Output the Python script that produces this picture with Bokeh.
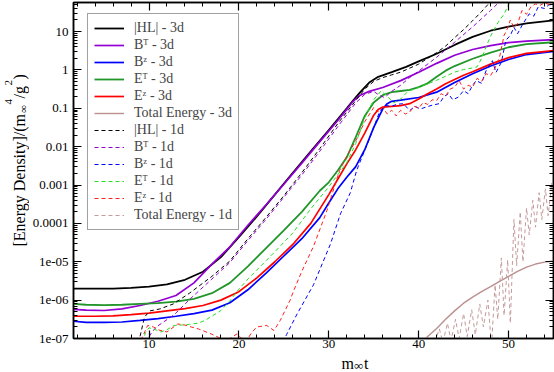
import numpy as np
from bokeh.plotting import figure
from bokeh.layouts import row, column
from bokeh.models import (Range1d, FixedTicker, LinearAxis, LogAxis, Legend,
                          LegendItem, Label, CustomJSTickFormatter)
from bokeh.embed import file_html
from bokeh.resources import INLINE

FONT = "Liberation Serif"

# ---------------- axes / ticks ----------------
x_major = [10, 20, 30, 40, 50]
x_minor = [2, 4, 6, 8, 12, 14, 16, 18, 22, 24, 26, 28, 32, 34, 36, 38, 42, 44, 46, 48, 52, 54]
y_major = [1e-07, 1e-06, 1e-05, 1e-04, 1e-03, 1e-02, 1e-01, 1.0, 10.0]
y_labels = ["1e-07", "1e-06", "1e-05", "0.0001", "0.001", "0.01", "0.1", "1", "10"]
y_minor = [m * 10.0 ** e for e in range(-7, 2) for m in range(2, 10)]

# ---------------- data (log10 of energy density) ----------------
hl3_x = [1.6, 4, 6, 8, 10, 12, 14, 16, 18, 20, 22, 24, 26, 28, 30, 32, 32.7, 33.5, 34.5, 35.5,
         37, 38.6, 40, 42, 44, 46, 48, 50, 52, 55]
hl3_l = [-5.70, -5.70, -5.70, -5.68, -5.65, -5.59, -5.47, -5.26, -4.88, -4.36, -3.82, -3.25, -2.68,
         -2.12, -1.57, -1.00, -0.80, -0.58, -0.33, -0.18, -0.06, 0.08, 0.22, 0.42, 0.65, 0.86, 1.02,
         1.13, 1.21, 1.29]

bt3_x = [1.6, 3, 5, 7, 9, 11, 13, 15, 17, 19, 21, 23, 25, 27, 29, 31, 32, 32.7, 33.5, 34.5, 36, 38,
         40, 42, 44, 46, 48, 50, 52, 55]
bt3_l = [-6.24, -6.26, -6.27, -6.23, -6.14, -6.03, -5.88, -5.55, -5.06, -4.61, -4.05, -3.52, -2.98,
         -2.43, -1.87, -1.32, -1.03, -0.82, -0.66, -0.56, -0.46, -0.28, -0.06, 0.17, 0.38, 0.53, 0.63,
         0.71, 0.75, 0.79]

bz3_x = [1.6, 3, 5, 7, 9, 11, 13, 15, 17, 19, 21, 23, 25, 27, 29, 30, 31, 32, 33, 34, 35, 36, 36.5,
         37, 38, 40, 42, 44, 46, 48, 50, 52, 55]
bz3_l = [-6.55, -6.58, -6.58, -6.57, -6.53, -6.48, -6.42, -6.35, -6.26, -6.07, -5.73, -5.30, -4.85,
         -4.40, -3.85, -3.47, -3.10, -2.80, -2.52, -2.08, -1.50, -1.02, -0.88, -0.82, -0.79, -0.72,
         -0.58, -0.33, -0.10, 0.10, 0.27, 0.40, 0.48]

et3_x = [1.6, 3, 5, 7, 9, 11, 13, 15, 17, 19, 21, 23, 25, 27, 29, 30, 31, 32, 33, 34, 35, 36, 37, 38,
         39, 40, 41, 42, 43, 44, 46, 48, 50, 52, 55]
et3_l = [-6.10, -6.12, -6.13, -6.12, -6.10, -6.08, -6.04, -5.97, -5.82, -5.55, -5.12, -4.65, -4.18,
         -3.70, -3.15, -2.93, -2.62, -2.28, -1.75, -1.20, -0.85, -0.66, -0.58, -0.55, -0.52, -0.45,
         -0.35, -0.18, -0.02, 0.10, 0.29, 0.45, 0.59, 0.67, 0.72]

ez3_x = [1.6, 4, 6, 8, 10, 12, 14, 16, 18, 20, 22, 24, 26, 28, 30, 31, 32, 33, 34, 35, 35.5, 36, 37,
         38, 39, 40, 41, 42, 43, 44, 45, 46, 48, 50, 52, 55]
ez3_l = [-6.42, -6.42, -6.41, -6.38, -6.34, -6.28, -6.22, -6.14, -6.00, -5.78, -5.42, -5.00, -4.55,
         -4.00, -3.25, -2.85, -2.45, -2.08, -1.65, -1.18, -1.03, -0.97, -0.95, -0.93, -0.88, -0.76,
         -0.62, -0.50, -0.36, -0.25, -0.14, -0.05, 0.15, 0.32, 0.43, 0.50]

tot3_x = [40.6, 41, 42, 43, 44, 45, 46, 47, 48, 49, 50, 51, 52, 53, 54, 55]
tot3_l = [-7.05, -6.95, -6.74, -6.50, -6.28, -6.08, -5.92, -5.78, -5.65, -5.51, -5.38, -5.25, -5.14,
          -5.06, -5.01, -4.98]

hl1_x = [8.7, 9.0, 9.5, 10.1, 11.2, 12.7, 14.5, 17.0, 19.0, 21.0, 23.0, 25.0, 27.0, 29.0, 31.0, 33.0,
         34.0, 35.0, 36.0, 37.0, 38.0, 40.0, 42.0, 43.0, 44.0, 45.0, 46.0, 47.0, 48.0, 48.6]
hl1_l = [-7.3, -6.95, -6.44, -6.28, -6.23, -6.10, -5.82, -5.38, -4.98, -4.40, -3.85, -3.28, -2.68,
         -2.05, -1.40, -0.80, -0.50, -0.30, -0.20, -0.13, -0.06, 0.15, 0.45, 0.62, 0.84, 1.05, 1.28,
         1.52, 1.78, 1.92]

bt1_x = [9.6, 10.2, 10.8, 12.8, 14.8, 17.0, 19.0, 21.0, 23.0, 25.0, 27.0, 29.0, 31.0, 33.0, 34.0,
         35.0, 35.6, 36.2, 37.0, 38.0, 39.0, 40.0, 42.0, 44.0, 46.0, 48.0, 49.2]
bt1_l = [-7.1, -6.88, -6.70, -6.38, -5.92, -5.45, -5.02, -4.45, -3.90, -3.32, -2.74, -2.12, -1.48,
         -0.86, -0.64, -0.56, -0.66, -0.72, -0.56, -0.40, -0.20, -0.03, 0.33, 0.72, 1.12, 1.55, 1.82]

bz1_x = [24.9, 25.3, 26.5, 28.3, 30.2, 31.3, 32.4, 33.1, 34.6, 35.7, 36.4, 37.0, 37.5, 38.3, 39.0,
         39.6, 40.2, 40.8, 41.5, 42.3, 42.8, 43.3, 43.8, 44.4, 45.0, 45.5, 46.0, 46.4, 47.0, 47.5,
         48.2, 48.6, 49.2, 49.7, 50.2, 50.6, 51.0, 51.6, 52.3, 52.8, 53.3, 54.0, 54.5, 55.0]
bz1_l = [-7.1, -6.90, -6.35, -5.60, -4.53, -3.75, -3.20, -2.62, -1.75, -1.06, -0.93, -0.95, -0.90,
         -0.88, -1.06, -0.95, -1.02, -0.97, -0.92, -0.88, -0.70, -0.62, -0.78, -0.71, -0.54, -0.62,
         -0.40, -0.28, -0.35, -0.02, 0.24, -0.07, 0.20, 0.77, 0.90, 1.11, 0.94, 1.20, 1.46, 1.40,
         1.64, 1.60, 1.70, 1.68]

et1_x = [9.3, 9.6, 10.0, 10.6, 11.3, 12.0, 12.8, 13.6, 14.5, 15.5, 16.2, 17.0, 18.0, 19.0, 19.8,
         21.0, 22.4, 24.0, 26.0, 28.0, 30.0, 32.0, 33.0, 34.0, 35.0, 35.8, 36.5, 37.2, 38.0, 38.8,
         40.0, 42.0, 44.0, 45.0, 46.0, 46.5, 47.0, 47.5, 48.0, 48.5, 49.0, 49.5, 50.0, 50.4]
et1_l = [-7.1, -6.85, -6.72, -6.76, -6.83, -6.77, -6.66, -6.65, -6.63, -6.60, -6.53, -6.42, -6.27,
         -6.02, -5.77, -5.45, -5.12, -4.74, -4.25, -3.62, -3.05, -2.42, -1.92, -1.25, -0.78, -0.55,
         -0.68, -0.86, -0.76, -0.56, -0.46, -0.27, -0.06, 0.01, 0.05, 0.08, 0.30, 0.60, 0.88, 1.10,
         1.30, 1.45, 1.70, 1.85]

ez1_x = [9.1, 9.85, 10.5, 11.1, 12.0, 13.2, 14.0, 14.7, 15.5, 16.9, 18.0, 18.6, 19.3, 19.8, 20.3,
         20.8, 21.4, 22.0, 23.1, 23.9, 24.6, 25.7, 26.1, 27.0, 28.3, 29.8, 31.2, 32.0, 33.0, 34.0,
         35.0, 35.5, 36.0, 36.5, 37.0, 37.5, 38.0, 38.5, 39.0, 39.5, 40.0, 40.5, 41.0, 41.5, 42.0,
         42.5, 43.0, 43.5, 44.0, 44.5, 45.0, 45.5, 46.0, 46.5, 47.0, 47.5, 48.0, 48.5, 49.0, 49.5,
         49.8, 50.2, 50.6, 51.0, 51.5, 52.0, 52.5, 53.0, 53.5, 54.0, 54.5, 55.0]
ez1_l = [-7.05, -6.66, -6.70, -6.78, -6.83, -6.62, -6.65, -6.70, -6.75, -6.88, -7.00, -7.08, -6.95,
         -6.88, -7.00, -7.08, -6.85, -6.70, -6.66, -6.79, -6.53, -6.00, -5.75, -5.25, -4.60, -3.66,
         -2.62, -2.25, -1.85, -1.35, -0.98, -1.10, -0.98, -1.15, -1.05, -1.20, -1.05, -1.15, -1.10,
         -0.95, -1.00, -0.85, -0.90, -0.78, -0.80, -0.62, -0.68, -0.50, -0.45, -0.28, -0.50, -0.40,
         -0.45, -0.22, -0.30, -0.10, -0.15, 0.05, 0.33, 0.90, 1.03, 1.30, 1.10, 1.20, 1.55, 1.45,
         1.65, 1.72, 1.68, 1.75, 1.70, 1.74]

tot1_x = [41.8, 42.3, 42.7, 43.2, 43.6, 44.1, 44.5, 45.0, 45.4, 45.9, 46.3, 46.8, 47.2, 47.7, 48.1,
          48.5, 48.8, 49.2, 49.5, 49.9, 50.2, 50.6, 50.9, 51.3, 51.6, 52.0, 52.3, 52.7, 53.0, 53.4,
          53.7, 54.1, 54.4, 54.8, 55.0]
tot1_l = [-7.1, -6.75, -7.1, -6.6, -7.05, -6.5, -7.0, -6.35, -6.95, -6.25, -6.9, -6.1, -6.7, -6.0,
          -7.2, -5.6, -6.5, -4.9, -6.4, -4.95, -6.6, -3.9, -5.1, -3.7, -5.0, -3.6, -4.3, -3.4, -4.1,
          -3.2, -3.9, -3.1, -3.8, -2.95, -3.5]

series = [
    # label, x, log10 y, color, width, dash
    ("|HL| - 3d", hl3_x, hl3_l, "#000000", 1.8, "solid"),
    ("B\u1d40 - 3d", bt3_x, bt3_l, "#9400d3", 1.7, "solid"),
    ("B\u1dbb - 3d", bz3_x, bz3_l, "#0000ff", 1.7, "solid"),
    ("E\u1d40 - 3d", et3_x, et3_l, "#22962a", 1.8, "solid"),
    ("E\u1dbb - 3d", ez3_x, ez3_l, "#ff0000", 1.7, "solid"),
    ("Total Energy - 3d", tot3_x, tot3_l, "#bc8f8f", 1.4, "solid"),
    ("|HL| - 1d", hl1_x, hl1_l, "#000000", 1.0, "4 3"),
    ("B\u1d40 - 1d", bt1_x, bt1_l, "#9400d3", 1.0, "4 3"),
    ("B\u1dbb - 1d", bz1_x, bz1_l, "#0000ff", 1.0, "4 3"),
    ("E\u1d40 - 1d", et1_x, et1_l, "#22e022", 1.0, "4 3"),
    ("E\u1dbb - 1d", ez1_x, ez1_l, "#ff2020", 1.0, "4 3"),
    ("Total Energy - 1d", tot1_x, tot1_l, "#c49a9a", 1.0, "4 3"),
]

LEFT_W = 29      # strip holding the y-axis title
BOTTOM_H = 18    # strip holding the x-axis title
TOTAL_W, TOTAL_H = 554, 372

p = figure(width=TOTAL_W - LEFT_W, height=TOTAL_H - BOTTOM_H, x_range=Range1d(1.6, 55),
           y_range=Range1d(1e-07, 57), y_axis_type="log", output_backend="svg",
           toolbar_location=None, min_border_left=43, min_border_right=1, min_border_top=2,
           min_border_bottom=16)
p.xgrid.visible = False
p.ygrid.visible = False
p.outline_line_color = "black"
p.outline_line_width = 1.5
p.background_fill_color = "white"
p.border_fill_color = "white"

items = []
for label, xs, ls, color, w, dash in series:
    r = p.line(xs, list(10.0 ** np.array(ls)), line_color=color, line_width=w, line_dash=dash)
    items.append(LegendItem(label=label, renderers=[r]))

def style(ax):
    ax.axis_line_width = 1.5
    ax.major_tick_in = 8
    ax.major_tick_out = 0
    ax.minor_tick_in = 4
    ax.minor_tick_out = 0
    ax.major_tick_line_width = 1.2
    ax.minor_tick_line_width = 1
    ax.major_label_text_font = FONT
    ax.major_label_text_font_size = "13px"
    ax.major_label_text_color = "black"

xa = p.xaxis[0]
xa.ticker = FixedTicker(ticks=x_major, minor_ticks=x_minor)
style(xa)
xa.major_label_standoff = 1

ya = p.yaxis[0]
ya.ticker = FixedTicker(ticks=y_major, minor_ticks=y_minor)
style(ya)
ya.major_label_standoff = 5
ya.major_label_overrides = dict(zip(y_major, y_labels))

blank = CustomJSTickFormatter(code="return ''")
top = LinearAxis(ticker=FixedTicker(ticks=x_major, minor_ticks=x_minor), formatter=blank,
                 major_label_standoff=0)
style(top)
p.add_layout(top, "above")
right = LogAxis(ticker=FixedTicker(ticks=y_major, minor_ticks=y_minor), formatter=blank,
                major_label_standoff=0)
style(right)
p.add_layout(right, "right")

legend = Legend(items=items, location=(14, 108), label_text_font=FONT,
                label_text_font_size="14px", glyph_width=30, glyph_height=16, label_height=16,
                spacing=1, padding=6, label_standoff=10, border_line_color="#444444",
                border_line_width=1, background_fill_alpha=1.0, margin=0)
p.add_layout(legend)


def strip(w, h):
    f = figure(width=w, height=h, x_range=Range1d(0, w), y_range=Range1d(0, h),
               output_backend="svg", toolbar_location=None, min_border=0,
               x_axis_location=None, y_axis_location=None)
    f.outline_line_color = None
    f.background_fill_color = "white"
    f.border_fill_color = "white"
    for g in f.grid:
        g.visible = False
    return f


def lab(fig, text, x, y, size, angle=0.0):
    fig.add_layout(Label(x=x, y=y, x_units="screen", y_units="screen", text=text, angle=angle,
                         text_font=FONT, text_font_size=size, text_color="black",
                         text_align="left", text_baseline="middle"))


# y axis title: [Energy Density]/(m_inf^4/g^2)   (rotated, reads bottom to top)
ly = strip(LEFT_W, TOTAL_H)
a = np.pi / 2
lab(ly, "[Energy Density]/(m", 18.6, 126, "16px", a)
lab(ly, "\u221e", 22.3, 259.5, "11px", a)
lab(ly, "4", 7.8, 268, "11px", a)
lab(ly, "/g", 18.6, 274, "16px", a)
lab(ly, "2", 7.8, 287, "11px", a)
lab(ly, ")", 18.6, 293, "16px", a)

# x axis title: m_inf t
lx = strip(TOTAL_W - LEFT_W, BOTTOM_H)
lab(lx, "m", 268, 9.4, "16px")
lab(lx, "\u221e", 280.5, 7.4, "13px")
lab(lx, "t", 290.5, 9.4, "16px")

layout = row(ly, column(p, lx))
open("out.html", "w").write(file_html(layout, INLINE))
